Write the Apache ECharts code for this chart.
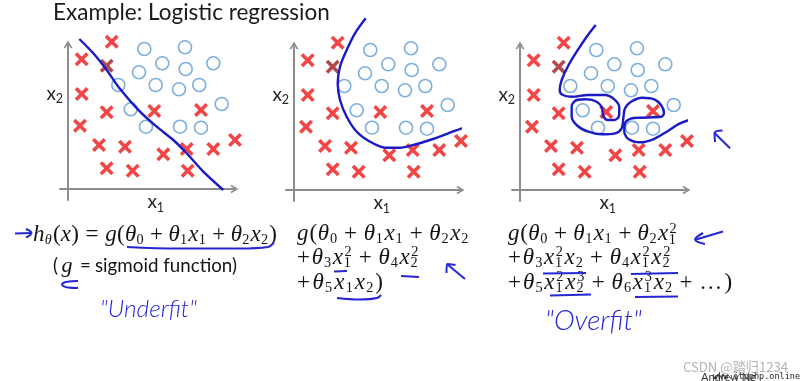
<!DOCTYPE html>
<html><head><meta charset="utf-8">
<script src="https://cdn.jsdelivr.net/npm/echarts@6.0.0/dist/echarts.min.js"></script>
<style>html,body{margin:0;padding:0;background:#fff}#c{width:800px;height:381px}</style>
</head><body><div id="c"></div>
<script>
// ---------------- data ----------------
// panel units: roughly pixels measured from each panel's axis origin (x right, y up)
const crosses = [[43.7,147.3],[13.7,129.7],[38.7,123.3],[13.7,95],[38.7,76.7],[12,63.3],[86.3,78],[133,79],[31,44],[57,42.3],[95.3,34.7],[118.7,40],[145.3,40],[167,49],[38.7,20.7],[64.7,18.3],[119.7,18.3]];
const circles = [[76.3,140],[117,141.7],[94.3,125.7],[117.7,120],[145.3,125.7],[71,116.7],[50.3,104],[87.7,104],[111,99.7],[131.3,104],[153.7,85],[62.7,79.7],[78,62.3],[112,62.3],[133,61.3]];
const boundaryLinear = [[11.3,150],[25.3,135.7],[38.7,119],[50.3,102.3],[72,77.3],[88.7,62.3],[105.3,49],[118.7,35.7],[135.3,17.3],[155.3,-1]];
const boundaryQuadratic = [[71.7,171.7],[61,156.7],[52.7,140],[46,123.3],[43.7,106.7],[46,90],[52.7,73.3],[62.7,58.3],[76,48.3],[91,42.3],[106,42.3],[119.3,45],[136,50],[156,57.3],[176,65],[196,75]];
const boundaryHighOrder = [[75.7,165],[66.7,153.3],[56.7,138.3],[47.7,123.3],[41.7,110],[39.7,100],[42.3,95.3],[51.7,93.3],[68.3,95],[85,95],[94.3,90.7],[99.3,82.7],[99,74],[94.3,70],[87.7,70],[83.3,74],[81.7,82.7],[76.7,88.3],[66.7,90.7],[56.7,90],[51.7,84],[51.7,73.3],[57.7,64],[68.3,58.3],[81.7,55.7],[95,56.7],[101.7,61.7],[103.3,71.7],[105,81.7],[111,88.3],[122.3,92.3],[134.3,90.7],[141,85],[144,77.3],[141.7,73.3],[133.3,72.7],[121.7,72.3],[111,71.3],[105,66.7],[104.3,58.3],[108.3,51],[120,47.7],[133.3,50.7],[146.7,58.3],[160,66.7],[175,71.7],[188.3,75],[198.3,80.7]];

// hand-drawn pen strokes, page units (x 0..800 right, y 0..381 down)
const penArrowF1 = [[15,233.5],[31.5,233]];
const penArrowF1Head = [[26,229],[31.5,233],[26,237.5]];
const penUnderlineF1 = [[127,247],[180,248.5],[240,248.5],[268,247],[274,242.5]];
const penHookG = [[78,281],[66,282],[62,284.5],[68,287.5],[78,288]];
const penUnderF2a = [[334,271.5],[347,271]];
const penUnderF2b = [[401,276],[419,277]];
const penUnderF2c = [[337,298],[360,299.5],[377,298],[381,295]];
const penArrowF2 = [[465,279],[447.5,264.5]];
const penArrowF2Head = [[446.5,273],[447,264],[455.5,265]];
const penArrowF3 = [[723,231.5],[696,239.5]];
const penArrowF3Head = [[703,233],[695,239.5],[705,244]];
const penUnderF3a = [[543,273.5],[586,273]];
const penUnderF3b = [[631,274],[678,273]];
const penUnderF3c = [[550,295.5],[591,294.5]];
const penUnderF3d = [[635,297],[678,296.5]];
const penArrowP3 = [[730,148.3],[714.5,133]];
const penArrowP3Head = [[715,142],[714.5,133],[722.5,130.5]];

// text content
const titleText = 'Example: Logistic regression';
const axisNameX = ['x','1'];
const axisNameY = ['x','2'];
const formula1 = ['h_θ(x) = g(θ_0 + θ_1x_1 + θ_2x_2)'];
const formula2 = ['g(θ_0 + θ_1x_1 + θ_2x_2', '+θ_3x_1^2 + θ_4x_2^2', '+θ_5x_1x_2)'];
const formula3 = ['g(θ_0 + θ_1x_1 + θ_2x_1^2', '+θ_3x_1^2x_2 + θ_4x_1^2x_2^2', '+θ_5x_1^2x_2^3 + θ_6x_1^3x_2 + …)'];
const sigmoidNote = ['(', 'g', '=', 'sigmoid function)'];
const handNotes = ['"Underfit"', '"Overfit"'];
const watermark = ['CSDN @踏归1234', 'Andrew Ng', 'www.itpphp.online'];

// ---------------- helpers ----------------
const SERIF = '"Liberation Serif", "Times New Roman", serif';
const SANS = 'Lato, "Liberation Sans", sans-serif';
const HAND = 'Lato, "Liberation Sans", sans-serif';
const mctx = document.createElement('canvas').getContext('2d');
function tw(t, f){ mctx.font = f; mctx.textBaseline = 'alphabetic'; return mctx.measureText(t).width; }
const midCache = {};
function midOff(f){
  if (midCache[f] != null) return midCache[f];
  mctx.font = f; mctx.textBaseline = 'middle';
  const a = mctx.measureText('x').actualBoundingBoxDescent;
  mctx.textBaseline = 'alphabetic';
  const b = mctx.measureText('x').actualBoundingBoxDescent;
  return (midCache[f] = a - b);
}
function txt(text, x, baseline, font, color){
  return {type:'text', x:x, y:baseline - midOff(font), silent:true,
    style:{text:text, font:font, fill:color, align:'left', verticalAlign:'middle', textAlign:'left', textVerticalAlign:'middle'}};
}
function fitFont(text, family, pre, targetW){
  const w = tw(text, pre + '100px ' + family);
  return pre + (100*targetW/w).toFixed(2) + 'px ' + family;
}
function tokenize(s){
  const out = []; let i = 0;
  while (i < s.length){
    const c = s[i];
    if (c === ' '){ i++; continue; }
    if (c === '_' || c === '^'){
      const sc = {type:'script', sub:null, sup:null};
      while (i < s.length && (s[i] === '_' || s[i] === '^')){ if (s[i] === '_') sc.sub = s[i+1]; else sc.sup = s[i+1]; i += 2; }
      out.push(sc); continue;
    }
    out.push({type:(c === '+' || c === '=') ? 'op' : 'ch', t:c}); i++;
  }
  return out;
}
function mathFont(ch, size){ return (/[a-zθ]/.test(ch) ? 'italic ' : '') + size + 'px ' + SERIF; }
function formulaLine(str, x0, baseline, size, targetW, color){
  const toks = tokenize(str), ss = Math.round(size*6.2)/10, pieces = []; let cx = 0;
  toks.forEach(function(tk, idx){
    if (tk.type === 'op'){
      const gap = idx === 0 ? 0 : (tk.t === '=' ? 0.278 : 0.222)*size;
      const f = mathFont(tk.t, size); cx += gap;
      pieces.push({t:tk.t, f:f, dx:cx, dy:0});
      cx += tw(tk.t, f) + gap + (idx === 0 ? 0.03*size : 0);
    } else if (tk.type === 'script'){
      let w = 0;
      if (tk.sup){ const f = mathFont(tk.sup, ss); pieces.push({t:tk.sup, f:f, dx:cx + 0.03*size, dy:-0.31*size}); w = Math.max(w, tw(tk.sup, f) + 0.03*size); }
      if (tk.sub){ const f = mathFont(tk.sub, ss); pieces.push({t:tk.sub, f:f, dx:cx, dy:(tk.sup ? 0.17 : 0.14)*size}); w = Math.max(w, tw(tk.sub, f)); }
      cx += w + 0.04*size;
    } else {
      const f = mathFont(tk.t, size);
      pieces.push({t:tk.t, f:f, dx:cx, dy:0}); cx += tw(tk.t, f);
    }
  });
  const k = targetW ? targetW/cx : 1;
  return pieces.map(function(p){ return txt(p.t, x0 + p.dx*k, baseline + p.dy, p.f, color); });
}

// ---------------- layout / styles ----------------
const RED = '#f01616', CIRC = '#5b9bd5', CURVE = '#1a1ac6', PEN = '#2626d2', AX = '#8c8c8c', INK = '#141414';
const CROSS = 'path://M0,1.8L1.8,0L5,3.2L8.2,0L10,1.8L6.8,5L10,8.2L8.2,10L5,6.8L1.8,10L0,8.2L3.2,5Z';
const CHEV = 'path://M0,8.2L5,0L10,8.2L8.3,9.2L5,3.4L1.7,9.2Z';
const panels = [
  {ox:68, oy:189, curve:boundaryLinear},
  {ox:294, oy:190, curve:boundaryQuadratic},
  {ox:520, oy:190, curve:boundaryHighOrder}
];
const XMIN = -8, XMAX = 166.5, YMIN = -11, YMAX = 144.5;
function axisCommon(){
  return {axisLine:{show:true, onZero:true, symbol:['none', CHEV], symbolSize:[9,8], lineStyle:{color:AX, width:2}},
    axisTick:{show:false}, axisLabel:{show:false}, splitLine:{show:false}};
}
const grids = [], xAxes = [], yAxes = [], series = [], graphics = [];
panels.forEach(function(p, i){
  grids.push({left:p.ox + XMIN, top:p.oy - YMAX, width:XMAX - XMIN, height:YMAX - YMIN, outerBoundsMode:'none', containLabel:false});
  xAxes.push(Object.assign({type:'value', gridIndex:i, min:XMIN, max:XMAX}, axisCommon()));
  yAxes.push(Object.assign({type:'value', gridIndex:i, min:YMIN, max:YMAX}, axisCommon()));
  series.push({type:'scatter', xAxisIndex:i, yAxisIndex:i, data:circles, symbol:'circle', symbolSize:13,
    itemStyle:{color:'rgba(255,255,255,0)', borderColor:CIRC, borderWidth:1.6}, clip:false, silent:true, z:2});
  series.push({type:'scatter', xAxisIndex:i, yAxisIndex:i,
    data:crosses.map(function(c, j){ return j === 2 ? {value:c, itemStyle:{color:'#a01c1c'}} : c; }),
    symbol:CROSS, symbolSize:14, itemStyle:{color:RED}, clip:false, silent:true, z:3});
  series.push({type:'line', xAxisIndex:i, yAxisIndex:i, data:p.curve, symbol:'none', smooth:0.3,
    lineStyle:{color:CURVE, width:2.4}, clip:false, silent:true, z:4});
  // axis names x1 / x2
  const fx = '19px ' + SANS, fs = '12.5px ' + SANS;
  const xw = tw('x', fx);
  graphics.push(txt(axisNameY[0], p.ox - 21.5, p.oy - 89, fx, '#262626'));
  graphics.push(txt(axisNameY[1], p.ox - 21.5 + xw - 0.3, p.oy - 85.8, fs, '#262626'));
  graphics.push(txt(axisNameX[0], p.ox + 79.5, p.oy + 19.3, fx, '#262626'));
  graphics.push(txt(axisNameX[1], p.ox + 79.5 + xw - 0.3, p.oy + 22.5, fs, '#262626'));
});
// overlay coordinate system for pen strokes
grids.push({left:0, top:0, width:800, height:381, outerBoundsMode:'none', containLabel:false});
xAxes.push({type:'value', gridIndex:3, min:0, max:800, show:false});
yAxes.push({type:'value', gridIndex:3, min:0, max:381, inverse:true, show:false});
[penArrowF1, penArrowF1Head, penUnderlineF1, penHookG, penUnderF2a, penUnderF2b, penUnderF2c, penArrowF2, penArrowF2Head,
 penArrowF3, penArrowF3Head, penUnderF3a, penUnderF3b, penUnderF3c, penUnderF3d, penArrowP3, penArrowP3Head].forEach(function(s){
  series.push({type:'line', xAxisIndex:3, yAxisIndex:3, data:s, symbol:'none', smooth:0.4,
    lineStyle:{color:PEN, width:2}, clip:false, silent:true, z:5});
});

// title
graphics.push(txt(titleText, 53, 19.5, fitFont(titleText, SANS, '', 277), '#1a1a1a'));
// formulas
const MS = 23;
graphics.push.apply(graphics, formulaLine(formula1[0], 33, 241, MS, 244, INK));
[[240,173],[263.5,123],[288.5,87]].forEach(function(r, i){ graphics.push.apply(graphics, formulaLine(formula2[i], 297, r[0], MS, r[1], INK)); });
[[240,170],[263.5,164],[288.5,225]].forEach(function(r, i){ graphics.push.apply(graphics, formulaLine(formula3[i], 508, r[0], MS, r[1], INK)); });
// (g = sigmoid function)
const sf = fitFont(sigmoidNote[3], SANS, '', 142);
graphics.push(txt(sigmoidNote[0], 53, 271.7, sf, INK));
graphics.push(txt(sigmoidNote[1], 61.5, 271.7, 'italic 22px ' + SERIF, INK));
graphics.push(txt(sigmoidNote[2], 80, 271.7, sf, INK));
graphics.push(txt(sigmoidNote[3], 95, 271.7, sf, INK));
// handwritten notes
graphics.push(txt(handNotes[0], 100, 317, fitFont(handNotes[0], HAND, 'italic 300 ', 97), PEN));
graphics.push(txt(handNotes[1], 545, 330, fitFont(handNotes[1], HAND, 'italic 300 ', 97), PEN));
// watermark / credits
graphics.push(txt(watermark[0], 683, 372, fitFont(watermark[0], '"Noto Sans CJK SC", sans-serif', '', 105), 'rgba(160,160,160,0.8)'));
graphics.push(txt(watermark[1], 701, 380.5, '11px ' + SANS, '#333'));
graphics.push(txt(watermark[2], 713, 379, fitFont(watermark[2], '"DejaVu Sans Mono", monospace', '', 87), '#222'));

const chart = echarts.init(document.getElementById('c'), null, {renderer:'canvas'});
chart.setOption({
  backgroundColor:'#ffffff',
  animation:false,
  grid:grids, xAxis:xAxes, yAxis:yAxes, series:series,
  graphic:{elements:graphics}
});
</script>
</body></html>
